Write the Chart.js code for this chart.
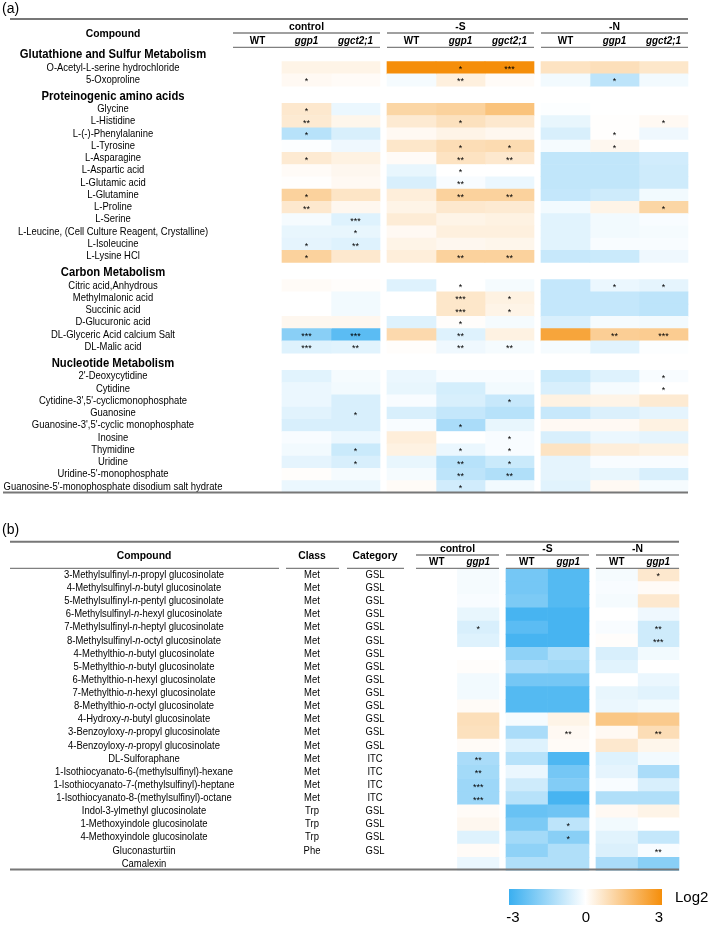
<!DOCTYPE html>
<html>
<head>
<meta charset="utf-8">
<script src="https://cdn.jsdelivr.net/npm/chart.js@4.4.1/dist/chart.umd.min.js"></script>
<style>
  body { margin: 0; background: #fff; }
  #wrapA { position: absolute; left: 0; top: 0; }
  #wrapB { position: absolute; left: 0; top: 500px; }
</style>
</head>
<body>
<div id="wrapA"><canvas id="chartA" width="709" height="500"></canvas></div>
<div id="wrapB"><canvas id="chartB" width="709" height="428"></canvas></div>
<script>
// ---------- panel (a) data ----------
const groupsA = ["control", "-S", "-N"];
const genotypesA = ["WT", "ggp1", "ggct2;1"];
const sectionsA = ["Glutathione and Sulfur Metabolism", "Proteinogenic amino acids", "Carbon Metabolism", "Nucleotide Metabolism"];
const sectionSizesA = [2, 13, 6, 10];
const compoundsA = [
  "O-Acetyl-L-serine hydrochloride", "5-Oxoproline",
  "Glycine", "L-Histidine", "L-(-)-Phenylalanine", "L-Tyrosine", "L-Asparagine", "L-Aspartic acid",
  "L-Glutamic acid", "L-Glutamine", "L-Proline", "L-Serine", "L-Leucine, (Cell Culture Reagent, Crystalline)",
  "L-Isoleucine", "L-Lysine HCl",
  "Citric acid,Anhydrous", "Methylmalonic acid", "Succinic acid", "D-Glucuronic acid",
  "DL-Glyceric Acid calcium Salt", "DL-Malic acid",
  "2'-Deoxycytidine", "Cytidine", "Cytidine-3',5'-cyclicmonophosphate", "Guanosine",
  "Guanosine-3',5'-cyclic monophosphate", "Inosine", "Thymidine", "Uridine",
  "Uridine-5'-monophosphate", "Guanosine-5'-monophosphate disodium salt hydrate"
];
// log2 fold change vs control WT
const ctrlGgp1A = [0.3, 0.15, 0.6, 0.55, -1.1, -0.05, 0.55, 0.1, 0.02, 1.2, 0.6, -0.15, -0.35, -0.4, 1.2, 0.1, 0, 0, 0.2, -1.8, -0.5, -0.45, -0.3, -0.3, -0.45, -0.6, -0.1, -0.2, -0.4, 0.05, -0.3];
const ctrlGgctA = [0.3, 0.1, -0.3, 0.25, -0.6, -0.25, 0.35, 0.2, 0.15, 0.7, 0.2, -0.5, -0.35, -0.5, 0.6, 0.05, -0.2, -0.2, 0.2, -2.5, -0.45, -0.15, -0.2, -0.6, -0.6, -0.6, -0.3, -0.8, -0.6, -0.15, -0.3];
const sWtA = [3, -0.15, 1.1, 0.55, 0.15, 0.65, 0.1, -0.35, -0.6, 0.45, 0.3, 0.5, 0.15, 0.3, 0.45, -0.5, 0, 0, -0.5, 1.0, 0.05, -0.3, -0.35, -0.1, -0.6, -0.1, 0.45, 0.35, -0.35, -0.15, 0.1];
const sGgp1A = [3, 0.4, 1.2, 0.8, 0.3, 0.9, 0.75, 0, -0.1, 1.2, 0.6, 0.3, 0.4, 0.2, 1.2, 0, 0.65, 0.65, 0.05, -0.5, -0.25, -0.1, -0.65, -0.6, -0.9, -1.3, 0, -0.3, -1.1, -1.0, -0.7];
const sGgctA = [3, 0.1, 1.6, 0.6, 0.2, 0.95, 0.6, 0, -0.3, 1.2, 0.55, 0.35, 0.4, 0.25, 1.2, -0.15, 0.35, 0.3, -0.15, 0.35, -0.15, -0.1, -0.2, -0.85, -1.1, -0.35, -0.1, -0.1, -0.8, -1.2, -0.2];
const nWtA = [0.75, -0.2, -0.05, -0.35, -0.6, -0.15, -0.95, -0.95, -0.95, -0.9, -0.2, -0.45, -0.45, -0.45, -0.85, -0.9, -0.9, -0.9, -0.6, 2.4, -0.15, -0.8, -0.6, 0.35, -0.85, 0.15, -0.6, 0.75, -0.4, -0.4, -0.45];
const nGgp1A = [0.85, -1.0, 0, 0.02, 0.02, 0.2, -0.95, -0.95, -0.95, -0.75, 0.3, -0.2, -0.2, -0.1, -0.8, -0.3, -0.9, -0.9, -0.15, 1.3, -0.45, -0.5, -0.15, 0.3, -0.55, 0.15, -0.3, 0.45, -0.1, -0.35, 0.15];
const nGgctA = [0.65, -0.2, 0, 0.15, -0.25, 0, -0.7, -0.75, -0.75, -0.2, 1.1, -0.1, -0.15, -0.1, -0.25, -0.4, -1.0, -1.0, -0.2, 1.35, -0.05, -0.1, 0, 0.55, -0.4, 0.35, -0.4, 0.35, -0.1, -0.6, -0.15];
// number of asterisks
const sigCtrlGgp1A = [0, 1, 1, 2, 1, 0, 1, 0, 0, 1, 2, 0, 0, 1, 1, 0, 0, 0, 0, 3, 3, 0, 0, 0, 0, 0, 0, 0, 0, 0, 0];
const sigCtrlGgctA = [0, 0, 0, 0, 0, 0, 0, 0, 0, 0, 0, 3, 1, 2, 0, 0, 0, 0, 0, 3, 2, 0, 0, 0, 1, 0, 0, 1, 1, 0, 0];
const sigSWtA      = [0, 0, 0, 0, 0, 0, 0, 0, 0, 0, 0, 0, 0, 0, 0, 0, 0, 0, 0, 0, 0, 0, 0, 0, 0, 0, 0, 0, 0, 0, 0];
const sigSGgp1A    = [1, 2, 0, 1, 0, 1, 2, 1, 2, 2, 0, 0, 0, 0, 2, 1, 3, 3, 1, 2, 2, 0, 0, 0, 0, 1, 0, 1, 2, 2, 1];
const sigSGgctA    = [3, 0, 0, 0, 0, 1, 2, 0, 0, 2, 0, 0, 0, 0, 2, 0, 1, 1, 0, 0, 2, 0, 0, 1, 0, 0, 1, 1, 1, 2, 0];
const sigNWtA      = [0, 0, 0, 0, 0, 0, 0, 0, 0, 0, 0, 0, 0, 0, 0, 0, 0, 0, 0, 0, 0, 0, 0, 0, 0, 0, 0, 0, 0, 0, 0];
const sigNGgp1A    = [0, 1, 0, 0, 1, 1, 0, 0, 0, 0, 0, 0, 0, 0, 0, 1, 0, 0, 0, 2, 0, 0, 0, 0, 0, 0, 0, 0, 0, 0, 0];
const sigNGgctA    = [0, 0, 0, 1, 0, 0, 0, 0, 0, 0, 1, 0, 0, 0, 0, 1, 0, 0, 0, 3, 0, 1, 1, 0, 0, 0, 0, 0, 0, 0, 0];

// ---------- panel (b) data ----------
const groupsB = ["control", "-S", "-N"];
const genotypesB = ["WT", "ggp1"];
// _n_ = italic
const compoundsB = [
  "3-Methylsulfinyl-_n_-propyl glucosinolate", "4-Methylsulfinyl-_n_-butyl glucosinolate",
  "5-Methylsulfinyl-_n_-pentyl glucosinolate", "6-Methylsulfinyl-_n_-hexyl glucosinolate",
  "7-Methylsulfinyl-_n_-heptyl glucosinolate", "8-Methylsulfinyl-_n_-octyl glucosinolate",
  "4-Methylthio-_n_-butyl glucosinolate", "5-Methylthio-_n_-butyl glucosinolate",
  "6-Methylthio-n-hexyl glucosinolate", "7-Methylthio-_n_-hexyl glucosinolate",
  "8-Methylthio-_n_-octyl glucosinolate", "4-Hydroxy-_n_-butyl glucosinolate",
  "3-Benzoyloxy-_n_-propyl glucosinolate", "4-Benzoyloxy-_n_-propyl glucosinolate",
  "DL-Sulforaphane", "1-Isothiocyanato-6-(methylsulfinyl)-hexane",
  "1-Isothiocyanato-7-(methylsulfinyl)-heptane", "1-Isothiocyanato-8-(methylsulfinyl)-octane",
  "Indol-3-ylmethyl glucosinolate", "1-Methoxyindole glucosinolate", "4-Methoxyindole glucosinolate",
  "Gluconasturtiin", "Camalexin"
];
const classB = ["Met", "Met", "Met", "Met", "Met", "Met", "Met", "Met", "Met", "Met", "Met", "Met", "Met", "Met", "Met", "Met", "Met", "Met", "Trp", "Trp", "Trp", "Phe", ""];
const categoryB = ["GSL", "GSL", "GSL", "GSL", "GSL", "GSL", "GSL", "GSL", "GSL", "GSL", "GSL", "GSL", "GSL", "GSL", "ITC", "ITC", "ITC", "ITC", "GSL", "GSL", "GSL", "GSL", ""];
const ctrlGgp1B = [-0.15, -0.15, -0.1, -0.35, -0.6, -0.5, 0, 0.05, -0.2, -0.2, 0.1, 0.85, 0.8, 0.1, -1.3, -1.4, -1.5, -1.5, 0.1, 0.2, -0.5, 0.1, -0.3];
const sWtB = [-2.1, -2.1, -2.0, -2.8, -2.5, -2.8, -1.7, -1.3, -2.1, -2.6, -2.6, -0.15, -1.3, -0.5, -1.1, -0.3, -0.75, -1.1, -2.3, -2.0, -1.4, -1.7, -1.2];
const sGgp1B = [-2.6, -2.6, -2.6, -2.8, -2.8, -2.8, -1.25, -1.4, -2.1, -2.6, -2.6, 0.3, 0.15, 0.1, -2.7, -2.1, -1.9, -2.8, -2.2, -1.0, -1.8, -1.2, -1.2];
const nWtB = [-0.15, -0.1, -0.15, 0, -0.1, 0.05, -0.6, -0.45, 0, -0.35, -0.3, 1.5, 0.15, 0.6, -0.5, -0.4, -0.1, -1.2, 0.15, -0.2, -0.45, -0.55, -1.3];
const nGgp1B = [0.6, 0.1, 0.6, -0.25, -0.75, -0.75, -0.2, 0, -0.3, -0.45, -0.2, 1.4, 0.9, 0.25, -0.2, -1.3, -0.6, -1.2, 0.3, 0, -0.9, -0.1, -1.8];
const sigCtrlGgp1B = [0, 0, 0, 0, 1, 0, 0, 0, 0, 0, 0, 0, 0, 0, 2, 2, 3, 3, 0, 0, 0, 0, 0];
const sigSWtB      = [0, 0, 0, 0, 0, 0, 0, 0, 0, 0, 0, 0, 0, 0, 0, 0, 0, 0, 0, 0, 0, 0, 0];
const sigSGgp1B    = [0, 0, 0, 0, 0, 0, 0, 0, 0, 0, 0, 0, 2, 0, 0, 0, 0, 0, 0, 1, 1, 0, 0];
const sigNWtB      = [0, 0, 0, 0, 0, 0, 0, 0, 0, 0, 0, 0, 0, 0, 0, 0, 0, 0, 0, 0, 0, 0, 0];
const sigNGgp1B    = [1, 0, 0, 0, 2, 3, 0, 0, 0, 0, 0, 0, 2, 0, 0, 0, 0, 0, 0, 0, 0, 2, 0];

const legendTicks = [-3, 0, 3];

// ---------- helpers ----------
const NARROW = "'Liberation Sans Narrow', 'Arial Narrow', 'Liberation Sans', sans-serif";
const SANS = "'Liberation Sans', Arial, sans-serif";
const NEG = [58, 175, 240];
const POS = [245, 142, 10];
const LINE = "#808080";
const SQUEEZE = 0.9; // the figure uses a condensed face

function colorFor(v) {
  const t = Math.min(Math.abs(v) / 3, 1);
  const c = v < 0 ? NEG : POS;
  const m = c.map(k => Math.round(255 + (k - 255) * t));
  return "rgb(" + m.join(",") + ")";
}

function txt(ctx, s, x, y, font, align, sx) {
  ctx.save();
  ctx.font = font;
  ctx.textAlign = align || "center";
  ctx.textBaseline = "middle";
  ctx.fillStyle = "#000";
  ctx.translate(x, y);
  ctx.scale(sx || 1, 1);
  ctx.fillText(s, 0, 0);
  ctx.restore();
}

// text with _italic_ parts, centred on cx, condensed
function richTxt(ctx, s, cx, y, size) {
  const parts = s.split("_");
  const fonts = parts.map((p, i) => (i % 2 ? "italic " : "") + size + "px " + NARROW);
  let w = 0;
  parts.forEach((p, i) => { ctx.font = fonts[i]; w += ctx.measureText(p).width * SQUEEZE; });
  let x = cx - w / 2;
  parts.forEach((p, i) => {
    txt(ctx, p, x, y, fonts[i], "left", SQUEEZE);
    ctx.font = fonts[i];
    x += ctx.measureText(p).width * SQUEEZE;
  });
}

function hline(ctx, x1, x2, y, w, color) {
  ctx.save();
  ctx.strokeStyle = color || LINE;
  ctx.lineWidth = w;
  ctx.beginPath();
  ctx.moveTo(x1, y);
  ctx.lineTo(x2, y);
  ctx.stroke();
  ctx.restore();
}

function stars(n) { return "*".repeat(n); }

// ---------- panel (a) ----------
const gapA = 7 / 49;
const colA = (g, c) => g * (3 + gapA) + c;
const rowPosA = [];
const sectionPosA = [];
let k = 0;
sectionSizesA.forEach((n, s) => {
  sectionPosA.push(k + s * 1.4 - 1.08);
  for (let r = 0; r < n; r++) rowPosA.push(k + r + s * 1.4);
  k += n;
});

const columnsA = [
  { g: 0, c: 1, values: ctrlGgp1A, sig: sigCtrlGgp1A },
  { g: 0, c: 2, values: ctrlGgctA, sig: sigCtrlGgctA },
  { g: 1, c: 0, values: sWtA, sig: sigSWtA },
  { g: 1, c: 1, values: sGgp1A, sig: sigSGgp1A },
  { g: 1, c: 2, values: sGgctA, sig: sigSGgctA },
  { g: 2, c: 0, values: nWtA, sig: sigNWtA },
  { g: 2, c: 1, values: nGgp1A, sig: sigNGgp1A },
  { g: 2, c: 2, values: nGgctA, sig: sigNGgctA }
];

const tableA = {
  id: "tableA",
  afterDraw(chart) {
    const ctx = chart.ctx;
    const xs = chart.scales.x, ys = chart.scales.y;
    const labelX = 113;
    txt(ctx, "(a)", 2, 9, "14px " + SANS, "left");
    const right = xs.getPixelForValue(colA(2, 3));
    hline(ctx, 10, right, 19, 2, "#777");
    txt(ctx, "Compound", labelX, 34, "bold 11.5px " + NARROW, "center", SQUEEZE);
    groupsA.forEach((name, g) => {
      const l = xs.getPixelForValue(colA(g, 0)), r = xs.getPixelForValue(colA(g, 3));
      txt(ctx, name, (l + r) / 2, 26.5, "bold 11.5px " + NARROW, "center", SQUEEZE);
      hline(ctx, l, r, 33, 1.3);
      genotypesA.forEach((gt, c) => {
        const cx = xs.getPixelForValue(colA(g, c) + 0.5);
        txt(ctx, gt, cx, 40.5, (c ? "italic " : "") + "bold 11px " + NARROW, "center", SQUEEZE);
      });
      hline(ctx, l, r, 47.3, 1.3);
    });
    sectionsA.forEach((s, i) => {
      txt(ctx, s, labelX, ys.getPixelForValue(sectionPosA[i]), "bold 12.5px " + NARROW, "center", SQUEEZE);
    });
    compoundsA.forEach((s, i) => {
      txt(ctx, s, labelX, ys.getPixelForValue(rowPosA[i]), "10.5px " + NARROW, "center", SQUEEZE);
    });
    columnsA.forEach(col => {
      const cx = xs.getPixelForValue(colA(col.g, col.c) + 0.5);
      col.sig.forEach((n, i) => {
        if (n) txt(ctx, stars(n), cx, ys.getPixelForValue(rowPosA[i]) + 2, "9px " + SANS);
      });
    });
    hline(ctx, 3, right, 492.5, 2.2, "#777");
  }
};

new Chart(document.getElementById("chartA"), {
  type: "bar",
  data: {
    datasets: columnsA.map(col => ({
      data: compoundsA.map((_, i) => ({ y: rowPosA[i], x: [colA(col.g, col.c), colA(col.g, col.c) + 1] })),
      backgroundColor: col.values.map(colorFor),
      borderWidth: 0,
      grouped: false,
      barPercentage: 1,
      categoryPercentage: 1
    }))
  },
  options: {
    indexAxis: "y",
    responsive: false,
    animation: false,
    layout: { padding: 0 },
    plugins: { legend: { display: false }, tooltip: { enabled: false } },
    scales: {
      x: { type: "linear", offset: false, min: -233 / 49, max: (709 - 233) / 49, display: false },
      y: { type: "linear", offset: false, min: -67.7 / 12.25, max: (500 - 67.7) / 12.25, reverse: true, display: false }
    }
  },
  plugins: [tableA]
});

// ---------- panel (b) ----------
const gapB = 7 / 41.5;
const colB = (g, c) => g * (2 + gapB) + c;
const rowPosB = compoundsB.map((_, i) => i);

const columnsB = [
  { g: 0, c: 1, values: ctrlGgp1B, sig: sigCtrlGgp1B },
  { g: 1, c: 0, values: sWtB, sig: sigSWtB },
  { g: 1, c: 1, values: sGgp1B, sig: sigSGgp1B },
  { g: 2, c: 0, values: nWtB, sig: sigNWtB },
  { g: 2, c: 1, values: nGgp1B, sig: sigNGgp1B }
];

const tableB = {
  id: "tableB",
  afterDraw(chart) {
    const ctx = chart.ctx;
    const xs = chart.scales.x, ys = chart.scales.y;
    const labelX = 144, classX = 312, catX = 375;
    txt(ctx, "(b)", 2, 30, "14px " + SANS, "left");
    const right = xs.getPixelForValue(colB(2, 2));
    hline(ctx, 10, right, 41.7, 2, "#777");
    txt(ctx, "Compound", labelX, 56, "bold 11.5px " + NARROW, "center", SQUEEZE);
    txt(ctx, "Class", classX, 56, "bold 11.5px " + NARROW, "center", SQUEEZE);
    txt(ctx, "Category", catX, 56, "bold 11.5px " + NARROW, "center", SQUEEZE);
    hline(ctx, 10, 279, 68.3, 1.3);
    hline(ctx, 286, 339, 68.3, 1.3);
    hline(ctx, 347, 404, 68.3, 1.3);
    groupsB.forEach((name, g) => {
      const l = xs.getPixelForValue(colB(g, 0)), r = xs.getPixelForValue(colB(g, 2));
      txt(ctx, name, (l + r) / 2, 49, "bold 11.5px " + NARROW, "center", SQUEEZE);
      hline(ctx, l, r, 55, 1.3);
      genotypesB.forEach((gt, c) => {
        const cx = xs.getPixelForValue(colB(g, c) + 0.5);
        txt(ctx, gt, cx, 62, (c ? "italic " : "") + "bold 11px " + NARROW, "center", SQUEEZE);
      });
      hline(ctx, l, r, 68.3, 1.3);
    });
    compoundsB.forEach((s, i) => {
      const y = ys.getPixelForValue(rowPosB[i]);
      richTxt(ctx, s, labelX, y, 10.5);
      if (classB[i]) txt(ctx, classB[i], classX, y, "10.5px " + NARROW, "center", SQUEEZE);
      if (categoryB[i]) txt(ctx, categoryB[i], catX, y, "10.5px " + NARROW, "center", SQUEEZE);
    });
    columnsB.forEach(col => {
      const cx = xs.getPixelForValue(colB(col.g, col.c) + 0.5);
      col.sig.forEach((n, i) => {
        if (n) txt(ctx, stars(n), cx, ys.getPixelForValue(rowPosB[i]) + 2, "9px " + SANS);
      });
    });
    hline(ctx, 10, right, 369.5, 2.2, "#777");

    // colour key
    const x0 = 509, x1 = 662, y0 = 389, y1 = 405;
    const grad = ctx.createLinearGradient(x0, 0, x1, 0);
    grad.addColorStop(0, colorFor(legendTicks[0]));
    grad.addColorStop(0.5, colorFor(legendTicks[1]));
    grad.addColorStop(1, colorFor(legendTicks[2]));
    ctx.fillStyle = grad;
    ctx.fillRect(x0, y0, x1 - x0, y1 - y0);
    legendTicks.forEach(t => {
      const x = 513 + (t + 3) / 6 * (659 - 513);
      txt(ctx, String(t), x, 418, "15px " + SANS);
    });
    txt(ctx, "Log2", 675, 398, "15px " + SANS, "left");
  }
};

new Chart(document.getElementById("chartB"), {
  type: "bar",
  data: {
    datasets: columnsB.map(col => ({
      data: compoundsB.map((_, i) => ({ y: rowPosB[i], x: [colB(col.g, col.c), colB(col.g, col.c) + 1] })),
      backgroundColor: col.values.map(colorFor),
      borderWidth: 0,
      grouped: false,
      barPercentage: 1,
      categoryPercentage: 1
    }))
  },
  options: {
    indexAxis: "y",
    responsive: false,
    animation: false,
    layout: { padding: 0 },
    plugins: { legend: { display: false }, tooltip: { enabled: false } },
    scales: {
      x: { type: "linear", offset: false, min: -416 / 41.5, max: (709 - 416) / 41.5, display: false },
      y: { type: "linear", offset: false, min: -75 / 13.13, max: (428 - 75) / 13.13, reverse: true, display: false }
    }
  },
  plugins: [tableB]
});
</script>
</body>
</html>
